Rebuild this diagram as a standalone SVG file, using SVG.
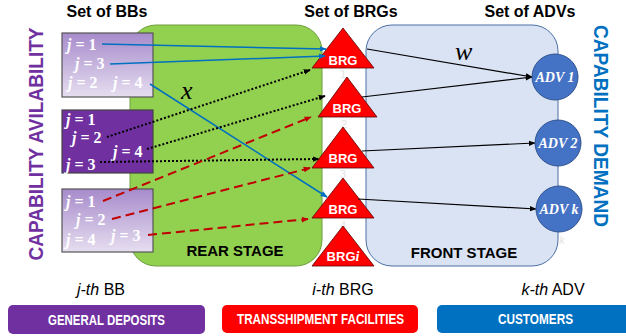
<svg xmlns="http://www.w3.org/2000/svg" width="626" height="336" viewBox="0 0 626 336">
<style>
.title{font-family:"Liberation Sans",Arial,sans-serif;font-weight:bold;font-size:16px;fill:#000;text-anchor:middle}
.jt{font-family:"Liberation Serif","Times New Roman",serif;font-weight:bold;font-size:16px;fill:#fff}
.jt tspan.i{font-style:italic}
.brg{font-family:"Liberation Sans",Arial,sans-serif;font-weight:bold;font-size:13px;fill:#fff;text-anchor:middle}
.adv{font-family:"Liberation Serif","Times New Roman",serif;font-weight:bold;font-style:italic;font-size:14px;fill:#fff;text-anchor:middle}
.stage{font-family:"Liberation Sans",Arial,sans-serif;font-weight:bold;font-size:15px;fill:#000;text-anchor:middle}
.cap{font-family:"Liberation Sans",Arial,sans-serif;font-weight:bold;font-size:20px;text-anchor:middle}
.sub{font-family:"Liberation Sans",Arial,sans-serif;font-size:16px;fill:#000;text-anchor:middle}
.btn{font-family:"Liberation Sans",Arial,sans-serif;font-weight:bold;font-size:14px;fill:#fff;text-anchor:middle}
.math{font-family:"Liberation Serif","Times New Roman",serif;font-style:italic;font-size:26px;fill:#000}
.faint{font-family:"Liberation Sans",Arial,sans-serif;font-size:11px;fill:#e4e4e4;text-anchor:middle}
.tri{fill:#FF0000;stroke:#5a0000;stroke-width:0.8}
.circ{fill:#4472C4;stroke:#2F528F;stroke-width:1}
.lbox{fill:url(#lg);stroke:#555;stroke-width:1.2}
.blue{stroke:#0070C0;stroke-width:1.5;fill:none;marker-end:url(#ab)}
.dot{stroke:#000;stroke-width:2;stroke-dasharray:2 2;fill:none;marker-end:url(#ak)}
.red{stroke:#C00000;stroke-width:2;stroke-dasharray:9 5;fill:none;marker-end:url(#ar)}
.blk{stroke:#000;stroke-width:1.2;fill:none;marker-end:url(#ak)}
</style>
<defs>
<linearGradient id="lg" x1="0" y1="0" x2="0" y2="1">
<stop offset="0" stop-color="#A78BCB"/>
<stop offset="1" stop-color="#E6DEF0"/>
</linearGradient>
<marker id="ab" viewBox="0 0 10 10" refX="9" refY="5" markerWidth="7" markerHeight="7" markerUnits="userSpaceOnUse" orient="auto"><path d="M0,1 L10,5 L0,9 z" fill="#0070C0"/></marker>
<marker id="ak" viewBox="0 0 10 10" refX="9" refY="5" markerWidth="7" markerHeight="7" markerUnits="userSpaceOnUse" orient="auto"><path d="M0,1 L10,5 L0,9 z" fill="#000"/></marker>
<marker id="ar" viewBox="0 0 10 10" refX="9" refY="5" markerWidth="7" markerHeight="7" markerUnits="userSpaceOnUse" orient="auto"><path d="M0,1 L10,5 L0,9 z" fill="#C00000"/></marker>
</defs>
<rect width="626" height="336" fill="#fff"/>

<g id="rear-stage">
<rect x="130" y="25" width="192" height="241" rx="26" fill="#92D050" stroke="#6E9E3E" stroke-width="1"/>
<text class="stage" x="235" y="256">REAR STAGE</text>
</g>
<g id="front-stage">
<rect x="366" y="25" width="192" height="241" rx="26" fill="#DAE3F3" stroke="#4A6FA5" stroke-width="1"/>
<text class="stage" x="464" y="258">FRONT STAGE</text>
</g>

<g id="titles">
<text class="title" x="107" y="17">Set of BBs</text>
<text class="title" x="351" y="17">Set of BRGs</text>
<text class="title" x="530" y="17">Set of ADVs</text>
</g>

<g id="cap-avail"><text class="cap" fill="#7030A0" transform="translate(43,144) rotate(-90)" textLength="233" lengthAdjust="spacingAndGlyphs">CAPABILITY AVILABILITY</text></g>
<g id="cap-demand"><text class="cap" fill="#0070C0" transform="translate(594,126) rotate(90)" textLength="202" lengthAdjust="spacingAndGlyphs">CAPABILITY DEMAND</text></g>

<g id="bb1">
<rect class="lbox" x="62" y="33" width="91" height="64"/>
<text class="jt" x="67" y="50"><tspan class="i">j</tspan> = 1</text>
<text class="jt" x="75" y="69"><tspan class="i">j</tspan> = 3</text>
<text class="jt" x="68" y="88"><tspan class="i">j</tspan> = 2</text>
<text class="jt" x="113" y="88"><tspan class="i">j</tspan> = 4</text>
</g>
<g id="bb2">
<rect x="62" y="110" width="91" height="63" fill="#7030A0" stroke="#444" stroke-width="1.2"/>
<text class="jt" x="66" y="125" font-size="15"><tspan class="i">j</tspan> = 1</text>
<text class="jt" x="72" y="143" font-size="15"><tspan class="i">j</tspan> = 2</text>
<text class="jt" x="113" y="157" font-size="15"><tspan class="i">j</tspan> = 4</text>
<text class="jt" x="66" y="170" font-size="15"><tspan class="i">j</tspan> = 3</text>
</g>
<g id="bb3">
<rect class="lbox" x="62" y="189" width="91" height="63"/>
<text class="jt" x="66" y="207"><tspan class="i">j</tspan> = 1</text>
<text class="jt" x="76" y="225"><tspan class="i">j</tspan> = 2</text>
<text class="jt" x="66" y="245"><tspan class="i">j</tspan> = 4</text>
<text class="jt" x="111" y="241"><tspan class="i">j</tspan> = 3</text>
</g>

<g id="brg1">
<polygon class="tri" points="343,28 374,68 312,68"/>
<text class="brg" x="343" y="65">BRG</text>
<text class="faint" x="343" y="78">1</text>
</g>
<g id="brg2">
<polygon class="tri" points="347,77 377,117 318,117"/>
<text class="brg" x="347" y="113">BRG</text>
<text class="faint" x="344" y="128">2</text>
</g>
<g id="brg3">
<polygon class="tri" points="343,127 374,168 312,168"/>
<text class="brg" x="343" y="163">BRG</text>
<text class="faint" x="343" y="178">3</text>
</g>
<g id="brg4">
<polygon class="tri" points="343,178 374,218 312,218"/>
<text class="brg" x="343" y="214">BRG</text>
<text class="faint" x="343" y="229">4</text>
</g>
<g id="brgi">
<polygon class="tri" points="343,226 374,266 312,266"/>
<text class="brg" x="343" y="261">BRG<tspan font-family="Liberation Serif,serif" font-style="italic" font-size="14">i</tspan></text>
</g>

<g id="connectors">
<path class="blue" d="M102,44 L326,49"/>
<path class="blue" d="M110,64 L325,56"/>
<path class="blue" d="M150,84 L327,197"/>
<path class="dot" d="M107,137 L310,70"/>
<path class="dot" d="M147,149 L325,96"/>
<path class="dot" d="M100,162 L319,159"/>
<path class="red" d="M103,201 L311,117"/>
<path class="red" d="M112,219 L310,168"/>
<path class="red" d="M148,235 L308,219"/>
<path class="blk" d="M367,49 L532,77"/>
<path class="blk" d="M362,97 L532,77"/>
<path class="blk" d="M362,151 L535,143"/>
<path class="blk" d="M358,199 L536,209"/>
</g>

<g id="labels">
<text class="math" x="181" y="99">x</text>
<text class="math" x="455" y="60">w</text>
</g>

<g id="adv1">
<circle class="circ" cx="555" cy="77" r="23"/>
<text class="adv" x="555" y="82">ADV 1</text>
</g>
<g id="adv2">
<circle class="circ" cx="558" cy="143" r="23"/>
<text class="adv" x="558" y="148">ADV 2</text>
</g>
<g id="advk">
<circle class="circ" cx="559" cy="209" r="23"/>
<text class="adv" x="559" y="214">ADV k</text>
<text class="faint" x="562" y="244" font-style="italic">k</text>
</g>

<g id="sublabels">
<text class="sub" x="101" y="295"><tspan font-style="italic">j-th</tspan> BB</text>
<text class="sub" x="343" y="295"><tspan font-style="italic">i-th</tspan> BRG</text>
<text class="sub" x="553" y="295"><tspan font-style="italic">k-th</tspan> ADV</text>
</g>

<g id="general-deposits">
<rect x="8" y="305" width="197" height="29" rx="5" fill="#7030A0"/>
<text class="btn" x="106.5" y="325" textLength="117" lengthAdjust="spacingAndGlyphs">GENERAL DEPOSITS</text>
</g>
<g id="transshipment">
<rect x="222" y="305" width="196" height="28" rx="5" fill="#FF0000"/>
<text class="btn" x="320.5" y="324" textLength="167" lengthAdjust="spacingAndGlyphs">TRANSSHIPMENT FACILITIES</text>
</g>
<g id="customers">
<rect x="437" y="305" width="195" height="28" rx="5" fill="#0070C0"/>
<text class="btn" x="535.5" y="324" textLength="75" lengthAdjust="spacingAndGlyphs">CUSTOMERS</text>
</g>
</svg>
